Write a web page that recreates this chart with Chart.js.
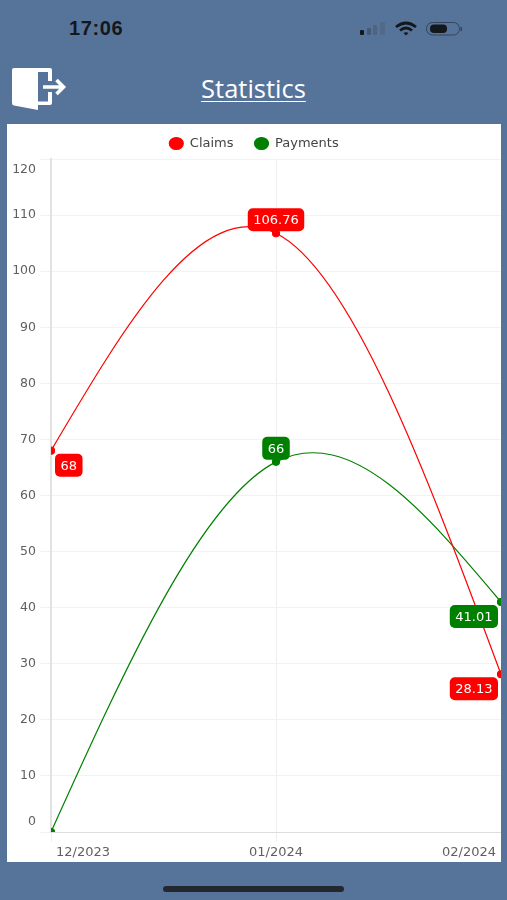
<!DOCTYPE html>
<html>
<head>
<meta charset="utf-8">
<title>Statistics</title>
<script src="https://cdn.jsdelivr.net/npm/chart.js@4"></script>
<style>
  html, body { margin: 0; padding: 0; }
  body { width: 507px; height: 900px; background: #56749a; position: relative; overflow: hidden; }
  .clock { position: absolute; left: 69px; top: 17px; font: bold 20px "Liberation Sans", sans-serif; letter-spacing: .6px; color: #14171c; }
  .status { position: absolute; left: 355px; top: 18px; }
  .door { position: absolute; left: 9px; top: 64px; }
  .title { position: absolute; left: 0; width: 507px; top: 71px; text-align: center; font: 25.5px "Open Sans", sans-serif; color: #fff; text-decoration: underline; text-decoration-thickness: 1px; text-underline-offset: 3px; }
  .card { position: absolute; left: 7px; top: 124px; width: 494px; height: 738px; background: #fff; overflow: hidden; }
  .card canvas { display: block; }
  .home { position: absolute; left: 163px; top: 886px; width: 181px; height: 6px; border-radius: 3px; background: #23282e; }
</style>
</head>
<body>
<div class="clock">17:06</div>
<svg class="status" width="112" height="22" viewBox="0 0 112 22">
  <rect x="5" y="12" width="4" height="5" rx="1" fill="#14171c"/>
  <rect x="12" y="10" width="4" height="7" rx="1" fill="#465a73"/>
  <rect x="18" y="7" width="4" height="10" rx="1" fill="#4d6582"/>
  <rect x="25" y="4" width="5" height="13" rx="1" fill="#52698a"/>
  <path d="M41 9 Q51 1 61 9 M45 12.5 Q51 7.5 57 12.5" fill="none" stroke="#14171c" stroke-width="2.8"/>
  <path d="M48.5 15 Q51 13.5 53.5 15 L51 17.5 Z" fill="#14171c"/>
  <rect x="71.5" y="4.5" width="33" height="12.5" rx="6" fill="none" stroke="#33445a" stroke-width="1"/>
  <rect x="75" y="6.5" width="17" height="8.5" rx="4" fill="#14171c"/>
  <rect x="105.5" y="9" width="1.5" height="4" fill="#33445a"/>
</svg>
<svg class="door" width="60" height="50" viewBox="0 0 60 50">
  <path d="M3 6 Q3 4 5 4 L41 4 Q43 4 43 6 L43 17 L39 17 L39 8 L29 8 L29 46 L5 41.5 Q3 41 3 39 Z" fill="#fff"/>
  <path d="M29 37.5 L39 37.5 L39 28 L43 28 L43 39 Q43 41 41 41 L29 41 Z" fill="#fff"/>
  <path d="M34 23 L53 23 M47.5 16 L54.5 23 L47.5 30" fill="none" stroke="#fff" stroke-width="3.6"/>
</svg>
<div class="title">Statistics</div>
<div class="card"><canvas id="myChart" width="494" height="738"></canvas></div>
<div class="home"></div>

<script>
const categories = ['12/2023', '01/2024', '02/2024'];
const claims = [68, 106.76, 28.13];
const payments = [0, 66, 41.01];
const yTicks = [0, 10, 20, 30, 40, 50, 60, 70, 80, 90, 100, 110, 120];

const fontFamily = '"DejaVu Sans", sans-serif';

// Catmull-Rom tangents with free ends, so a line bows in one arch through its points
const freeEndSpline = {
  id: 'freeEndSpline',
  beforeDatasetsDraw(chart) {
    chart.data.datasets.forEach((ds, i) => {
      const meta = chart.getDatasetMeta(i);
      const pts = meta.data;
      const last = pts.length - 1;
      const slope = (a, b) => (b.y - a.y) / (b.x - a.x);
      const m = pts.map((pt, j) => (j > 0 && j < last ? slope(pts[j - 1], pts[j + 1]) : 0));
      m[0] = (3 * slope(pts[0], pts[1]) - m[1]) / 2;
      m[last] = (3 * slope(pts[last - 1], pts[last]) - m[last - 1]) / 2;
      pts.forEach((pt, j) => {
        const back = j > 0 ? (pt.x - pts[j - 1].x) / 3 : 0;
        const ahead = j < last ? (pts[j + 1].x - pt.x) / 3 : 0;
        pt.cp1x = pt.x - back;
        pt.cp1y = pt.y - back * m[j];
        pt.cp2x = pt.x + ahead;
        pt.cp2y = pt.y + ahead * m[j];
      });
      meta.dataset._pointsUpdated = true;
    });
  }
};

// little rounded value tags next to each point
const valueTags = {
  id: 'valueTags',
  afterDatasetsDraw(chart) {
    const c = chart.ctx;
    chart.data.datasets.forEach((ds, i) => {
      chart.getDatasetMeta(i).data.forEach((pt, j) => {
        const v = ds.data[j];
        if (!v) return;
        const text = String(v);
        c.save();
        c.font = '13px ' + fontFamily;
        const w = c.measureText(text).width + 11;
        const h = 23;
        let x = pt.x - w / 2;
        let y = pt.y - h - 2;
        if (j === 0) { x = pt.x + 4; y = pt.y + 3; }
        if (j === categories.length - 1) { x = pt.x - w - 3; y = pt.y + 3; }
        c.fillStyle = ds.borderColor;
        c.beginPath();
        c.roundRect(x, y, w, h, 5);
        c.fill();
        c.fillStyle = '#fff';
        c.textAlign = 'center';
        c.textBaseline = 'middle';
        c.fillText(text, x + w / 2, y + h / 2 + 1);
        c.restore();
      });
    });
  }
};

// y axis has no 'inner' alignment of its own, so pull the end labels in by hand
const innerEndLabels = {
  id: 'innerEndLabels',
  beforeDraw(chart) {
    const yItems = chart.scales.y.getLabelItems();
    yItems[0].options.translation[1] = chart.scales.y.bottom - 10;
    yItems[yItems.length - 1].options.translation[1] = chart.scales.y.top + 11;
    const xItems = chart.scales.x.getLabelItems();
    xItems[0].options.translation[0] = chart.scales.x.left + 5;
    xItems[xItems.length - 1].options.translation[0] = chart.scales.x.right - 5;
  }
};

// keeps the wide gap between legend entries without pushing the plot down
const compactLegend = {
  id: 'compactLegend',
  beforeInit(chart) {
    const fit = chart.legend.fit;
    chart.legend.fit = function () {
      fit.call(this);
      this.height = 43;
    };
  }
};

new Chart(document.getElementById('myChart'), {
  type: 'line',
  data: {
    labels: categories,
    datasets: [
      { label: 'Claims', data: claims, borderColor: 'red', backgroundColor: 'red', borderWidth: 1.2, pointRadius: 3.5, tension: 0.4, clip: 0 },
      { label: 'Payments', data: payments, borderColor: 'green', backgroundColor: 'green', borderWidth: 1.2, pointRadius: 3.5, tension: 0.4, clip: 0 }
    ]
  },
  options: {
    responsive: false,
    animation: false,
    layout: { autoPadding: false, padding: { top: -8, bottom: 0, left: 0, right: 0 } },
    plugins: {
      tooltip: { enabled: false },
      legend: {
        labels: {
          usePointStyle: true,
          pointStyle: 'circle',
          pointStyleWidth: 14,
          boxHeight: 8.5,
          padding: 21,
          color: '#444',
          font: { family: fontFamily, size: 13 }
        }
      }
    },
    scales: {
      x: {
        grid: { color: '#eeeeee', tickLength: 10 },
        border: { color: '#dddddd' },
        ticks: { align: 'inner', maxRotation: 0, color: '#5f5f5f', padding: 3, font: { family: fontFamily, size: 13 } },
        afterFit(scale) {
          scale.height = 30;
          scale.paddingLeft = 0;
          scale.paddingRight = 0;
        }
      },
      y: {
        min: 0,
        max: 120,
        afterBuildTicks(scale) { scale.ticks = yTicks.map(value => ({ value })); },
        grid: { color: '#f2f2f2', tickLength: 11 },
        border: { color: '#e2e2e2', width: 2 },
        ticks: { color: '#5f5f5f', padding: 4, font: { family: fontFamily, size: 12.5 } },
        afterFit(scale) { scale.width = 44; }
      }
    }
  },
  plugins: [compactLegend, innerEndLabels, freeEndSpline, valueTags]
});
</script>
</body>
</html>
